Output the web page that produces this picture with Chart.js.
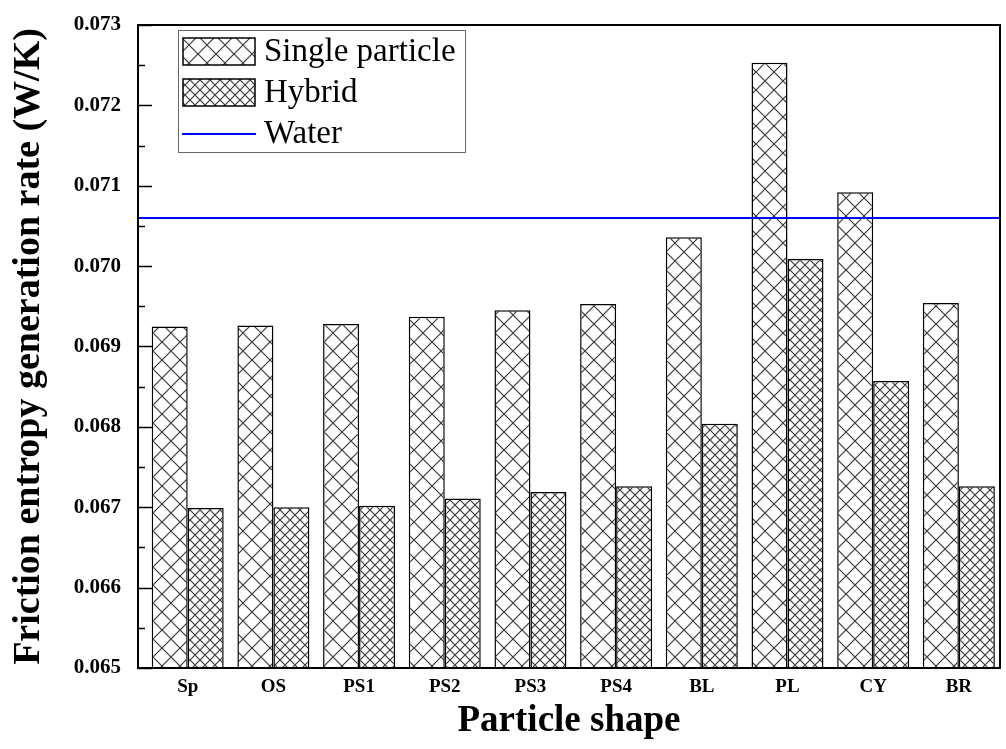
<!DOCTYPE html>
<html lang="en">
<head>
<meta charset="UTF-8">
<title>Friction entropy generation rate</title>
<script src="https://cdn.jsdelivr.net/npm/chart.js"></script>
<style>
  html, body { margin: 0; padding: 0; background: #fff; }
  #wrap { width: 1006px; height: 749px; }
</style>
</head>
<body>
<div id="wrap"><canvas id="entropyChart" width="1006" height="749"></canvas></div>
<script>
// particle shapes and friction entropy generation rate (W/K)
const shapes = ['Sp', 'OS', 'PS1', 'PS2', 'PS3', 'PS4', 'BL', 'PL', 'CY', 'BR'];
const singleParticle = [0.06925, 0.06926, 0.06928, 0.06937, 0.06945, 0.06953, 0.07036, 0.07253, 0.07092, 0.06954];
const hybrid = [0.06699, 0.06700, 0.06702, 0.06711, 0.06719, 0.06726, 0.06804, 0.07009, 0.06857, 0.06726];
const water = [0.0706];
const yMin = 0.065, yMax = 0.073, yStep = 0.001;

const serif = '"Liberation Serif", "Times New Roman", serif';

// cross-hatch fill, size = diamond width in px
function crossHatch(size) {
  const c = document.createElement('canvas');
  c.width = c.height = size;
  const g = c.getContext('2d');
  g.fillStyle = '#fff';
  g.fillRect(0, 0, size, size);
  g.strokeStyle = '#3a3a3a';
  g.lineWidth = 1.2;
  g.beginPath();
  g.moveTo(0, 0); g.lineTo(size, size);
  g.moveTo(size, 0); g.lineTo(0, size);
  g.stroke();
  return g.createPattern(c, 'repeat');
}

const singleFill = crossHatch(18);
const hybridFill = crossHatch(10);

// shapes sit at x = 0..9 on a numeric axis
const toPoints = vals => vals.map((v, i) => ({ x: i, y: v }));

// frame, inward ticks, water reference line and legend
const framePlugin = {
  id: 'frame',
  afterDatasetsDraw(chart) {
    const { ctx, chartArea: a, scales: { y } } = chart;
    ctx.save();

    // water line
    const wy = y.getPixelForValue(water[0]);
    ctx.strokeStyle = '#0000ff';
    ctx.lineWidth = 2;
    ctx.beginPath();
    ctx.moveTo(a.left, wy);
    ctx.lineTo(a.right, wy);
    ctx.stroke();

    // box
    ctx.strokeStyle = '#000';
    ctx.lineWidth = 2;
    ctx.strokeRect(a.left, a.top, a.right - a.left, a.bottom - a.top);

    // major and minor ticks on the left axis, pointing inward
    ctx.lineWidth = 1.5;
    ctx.beginPath();
    for (let v = yMin; v <= yMax + 1e-9; v += yStep / 2) {
      const py = Math.round(y.getPixelForValue(v)) + 0.5;
      const major = Math.abs(Math.round(v / yStep) * yStep - v) < 1e-9;
      ctx.moveTo(a.left, py);
      ctx.lineTo(a.left + (major ? 14 : 7), py);
    }
    ctx.stroke();

    // legend
    const lx = 178, ly = 30, lw = 287, lh = 122;
    ctx.fillStyle = '#fff';
    ctx.fillRect(lx, ly, lw, lh);
    ctx.strokeStyle = '#666';
    ctx.lineWidth = 1;
    ctx.strokeRect(lx + 0.5, ly + 0.5, lw, lh);

    const items = chart.data.datasets.map(ds => ({ label: ds.label, fill: ds.backgroundColor }));
    items.push({ label: 'Water', line: '#0000ff' });
    ctx.font = '33px ' + serif;
    ctx.textBaseline = 'middle';
    items.forEach((it, i) => {
      const cy = ly + 21 + i * 41;
      if (it.fill) {
        ctx.fillStyle = it.fill;
        ctx.fillRect(183, cy - 13, 72, 27);
        ctx.strokeStyle = '#000';
        ctx.lineWidth = 1.5;
        ctx.strokeRect(183, cy - 13, 72, 27);
      } else {
        ctx.strokeStyle = it.line;
        ctx.lineWidth = 2;
        ctx.beginPath();
        ctx.moveTo(182, cy + 1);
        ctx.lineTo(256, cy + 1);
        ctx.stroke();
      }
      ctx.fillStyle = '#000';
      ctx.fillText(it.label, 264, cy + 1);
    });
    ctx.restore();
  }
};

new Chart(document.getElementById('entropyChart').getContext('2d'), {
  type: 'bar',
  data: {
    datasets: [
      {
        label: 'Single particle',
        data: toPoints(singleParticle),
        backgroundColor: singleFill,
        borderColor: '#000',
        borderWidth: 1.5,
        borderSkipped: false
      },
      {
        label: 'Hybrid',
        data: toPoints(hybrid),
        backgroundColor: hybridFill,
        borderColor: '#000',
        borderWidth: 1.5,
        borderSkipped: false
      }
    ]
  },
  options: {
    responsive: false,
    animation: false,
    layout: { padding: { top: 25, right: 6, left: 0, bottom: 0 } },
    datasets: { bar: { barPercentage: 1.0, categoryPercentage: 0.84 } },
    plugins: {
      legend: { display: false },
      tooltip: { enabled: false }
    },
    scales: {
      x: {
        type: 'linear',
        min: -0.58,
        max: 9.48,
        offset: false,
        grid: { display: false },
        border: { display: false },
        afterBuildTicks(scale) {
          scale.ticks = shapes.map((s, i) => ({ value: i }));
        },
        ticks: {
          autoSkip: false,
          maxRotation: 0,
          color: '#000',
          font: { family: serif, size: 19, weight: 'bold' },
          padding: 0,
          callback: v => shapes[v]
        },
        title: {
          display: true,
          text: 'Particle shape',
          color: '#000',
          font: { family: serif, size: 37, weight: 'bold' },
          padding: { top: 4, bottom: 5 }
        },
        afterFit(scale) { scale.height = 81; }
      },
      y: {
        min: yMin,
        max: yMax,
        grid: { display: false },
        border: { display: false },
        ticks: {
          stepSize: yStep,
          color: '#000',
          font: { family: serif, size: 21, weight: 'bold' },
          padding: 9,
          callback: v => v.toFixed(3)
        },
        title: {
          display: true,
          text: 'Friction entropy generation rate (W/K)',
          color: '#000',
          font: { family: serif, size: 38, weight: 'bold' },
          padding: { top: 6, bottom: 0 }
        },
        afterFit(scale) {
          scale.width = 138;
          scale.paddingTop = 0;
          scale.paddingBottom = 0;
        }
      }
    }
  },
  plugins: [framePlugin]
});
</script>
</body>
</html>
